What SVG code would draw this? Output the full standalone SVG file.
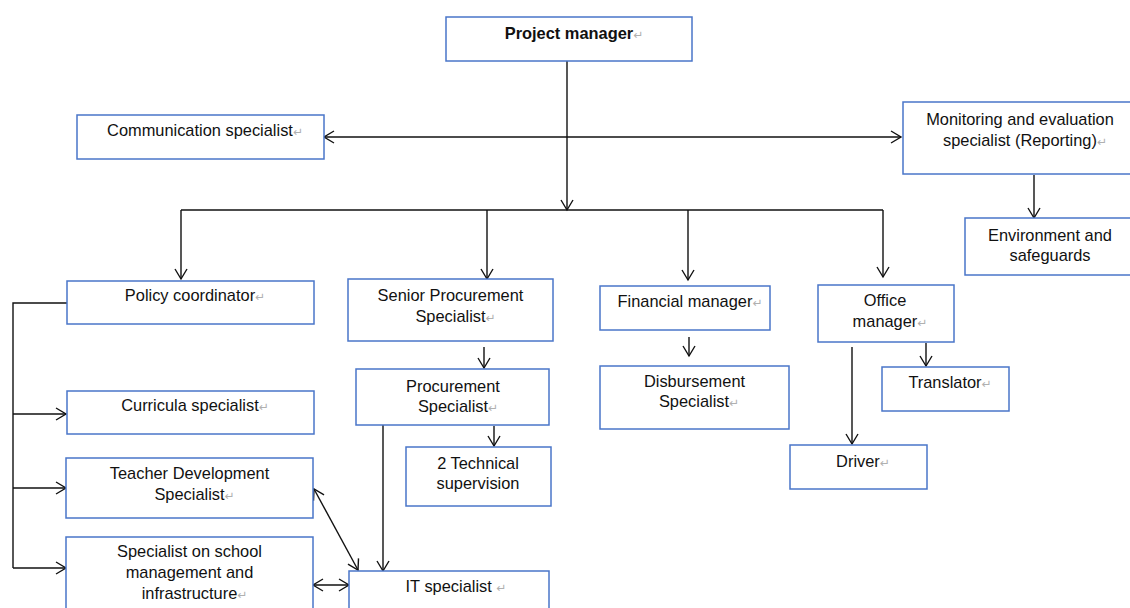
<svg xmlns="http://www.w3.org/2000/svg" width="1130" height="608" viewBox="0 0 1130 608">
<style>
.box{fill:#fff;stroke:#4a76c9;stroke-width:1.5}
.t{font-family:"Liberation Sans",Arial,sans-serif;font-size:16.4px;fill:#111;text-anchor:middle}
.b{font-weight:bold}
.r{font-family:"DejaVu Sans",sans-serif;font-size:12px;fill:#b0b0b0;font-weight:normal}
.c{fill:none;stroke:#111;stroke-width:1.4}
</style>
<defs>
<marker id="ah" markerUnits="userSpaceOnUse" markerWidth="14" markerHeight="14" viewBox="0 0 14 14" refX="11" refY="7" orient="auto-start-reverse">
<path d="M1,1 L11,7 L1,13" fill="none" stroke="#111" stroke-width="1.4"/>
</marker>
</defs>
<rect width="1130" height="608" fill="#fff"/>
<g id="connectors">
<path class="c" d="M567,61 V210" marker-end="url(#ah)"/>
<path class="c" d="M324,137 H901" marker-start="url(#ah)" marker-end="url(#ah)"/>
<path class="c" d="M181,210 H883"/>
<path class="c" d="M181,210 V279" marker-end="url(#ah)"/>
<path class="c" d="M487,210 V279" marker-end="url(#ah)"/>
<path class="c" d="M688,210 V280" marker-end="url(#ah)"/>
<path class="c" d="M883,210 V277" marker-end="url(#ah)"/>
<path class="c" d="M1034,175 V218" marker-end="url(#ah)"/>
<path class="c" d="M484,347 V368" marker-end="url(#ah)"/>
<path class="c" d="M494,426 V446" marker-end="url(#ah)"/>
<path class="c" d="M689,337 V356" marker-end="url(#ah)"/>
<path class="c" d="M926,343 V366" marker-end="url(#ah)"/>
<path class="c" d="M852,347 V444" marker-end="url(#ah)"/>
<path class="c" d="M67,303 H13 V568"/>
<path class="c" d="M13,414 H66" marker-end="url(#ah)"/>
<path class="c" d="M13,488 H66" marker-end="url(#ah)"/>
<path class="c" d="M13,568 H66" marker-end="url(#ah)"/>
<path class="c" d="M383,425 V571" marker-end="url(#ah)"/>
<path class="c" d="M314,489 L358,570" marker-start="url(#ah)" marker-end="url(#ah)"/>
<path class="c" d="M313,585 H349" marker-start="url(#ah)" marker-end="url(#ah)"/>
</g>
<g id="project-manager">
<rect class="box" x="446" y="17" width="246" height="44"/>
<text class="t b" x="574" y="39">Project manager<tspan class="r">↵</tspan></text>
</g>
<g id="communication-specialist">
<rect class="box" x="77" y="115" width="247" height="44"/>
<text class="t" x="205" y="136">Communication specialist<tspan class="r">↵</tspan></text>
</g>
<g id="monitoring-evaluation">
<rect class="box" x="903" y="102" width="240" height="72"/>
<text class="t" x="1020" y="125">Monitoring and evaluation</text>
<text class="t" x="1025" y="146">specialist (Reporting)<tspan class="r">↵</tspan></text>
</g>
<g id="environment-safeguards">
<rect class="box" x="965" y="218" width="180" height="57"/>
<text class="t" x="1050" y="241">Environment and</text>
<text class="t" x="1050" y="261">safeguards</text>
</g>
<g id="policy-coordinator">
<rect class="box" x="67" y="281" width="247" height="43"/>
<text class="t" x="195" y="301">Policy coordinator<tspan class="r">↵</tspan></text>
</g>
<g id="curricula-specialist">
<rect class="box" x="67" y="391" width="247" height="43"/>
<text class="t" x="195" y="411">Curricula specialist<tspan class="r">↵</tspan></text>
</g>
<g id="teacher-development">
<rect class="box" x="66" y="458" width="247" height="60"/>
<text class="t" x="189.5" y="479">Teacher Development</text>
<text class="t" x="194.5" y="500">Specialist<tspan class="r">↵</tspan></text>
</g>
<g id="school-management">
<rect class="box" x="66" y="537" width="247" height="85"/>
<text class="t" x="189.5" y="557">Specialist on school</text>
<text class="t" x="189.5" y="578">management and</text>
<text class="t" x="194.5" y="599">infrastructure<tspan class="r">↵</tspan></text>
</g>
<g id="senior-procurement">
<rect class="box" x="348" y="279" width="205" height="62"/>
<text class="t" x="450.5" y="301">Senior Procurement</text>
<text class="t" x="455.5" y="322">Specialist<tspan class="r">↵</tspan></text>
</g>
<g id="procurement-specialist">
<rect class="box" x="356" y="369" width="193" height="56"/>
<text class="t" x="453" y="392">Procurement</text>
<text class="t" x="458" y="412">Specialist<tspan class="r">↵</tspan></text>
</g>
<g id="technical-supervision">
<rect class="box" x="406" y="447" width="145" height="59"/>
<text class="t" x="478" y="469">2 Technical</text>
<text class="t" x="478" y="489">supervision</text>
</g>
<g id="it-specialist">
<rect class="box" x="349" y="571" width="200" height="50"/>
<text class="t" x="456" y="592">IT specialist <tspan class="r">↵</tspan></text>
</g>
<g id="financial-manager">
<rect class="box" x="600" y="286" width="170" height="44"/>
<text class="t" x="690" y="307">Financial manager<tspan class="r">↵</tspan></text>
</g>
<g id="disbursement-specialist">
<rect class="box" x="600" y="366" width="189" height="63"/>
<text class="t" x="694.5" y="387">Disbursement</text>
<text class="t" x="699" y="407">Specialist<tspan class="r">↵</tspan></text>
</g>
<g id="office-manager">
<rect class="box" x="818" y="285" width="136" height="57"/>
<text class="t" x="885" y="306">Office</text>
<text class="t" x="890" y="327">manager<tspan class="r">↵</tspan></text>
</g>
<g id="translator">
<rect class="box" x="882" y="367" width="127" height="44"/>
<text class="t" x="950" y="388">Translator<tspan class="r">↵</tspan></text>
</g>
<g id="driver">
<rect class="box" x="790" y="445" width="137" height="44"/>
<text class="t" x="863" y="467">Driver<tspan class="r">↵</tspan></text>
</g>
</svg>
